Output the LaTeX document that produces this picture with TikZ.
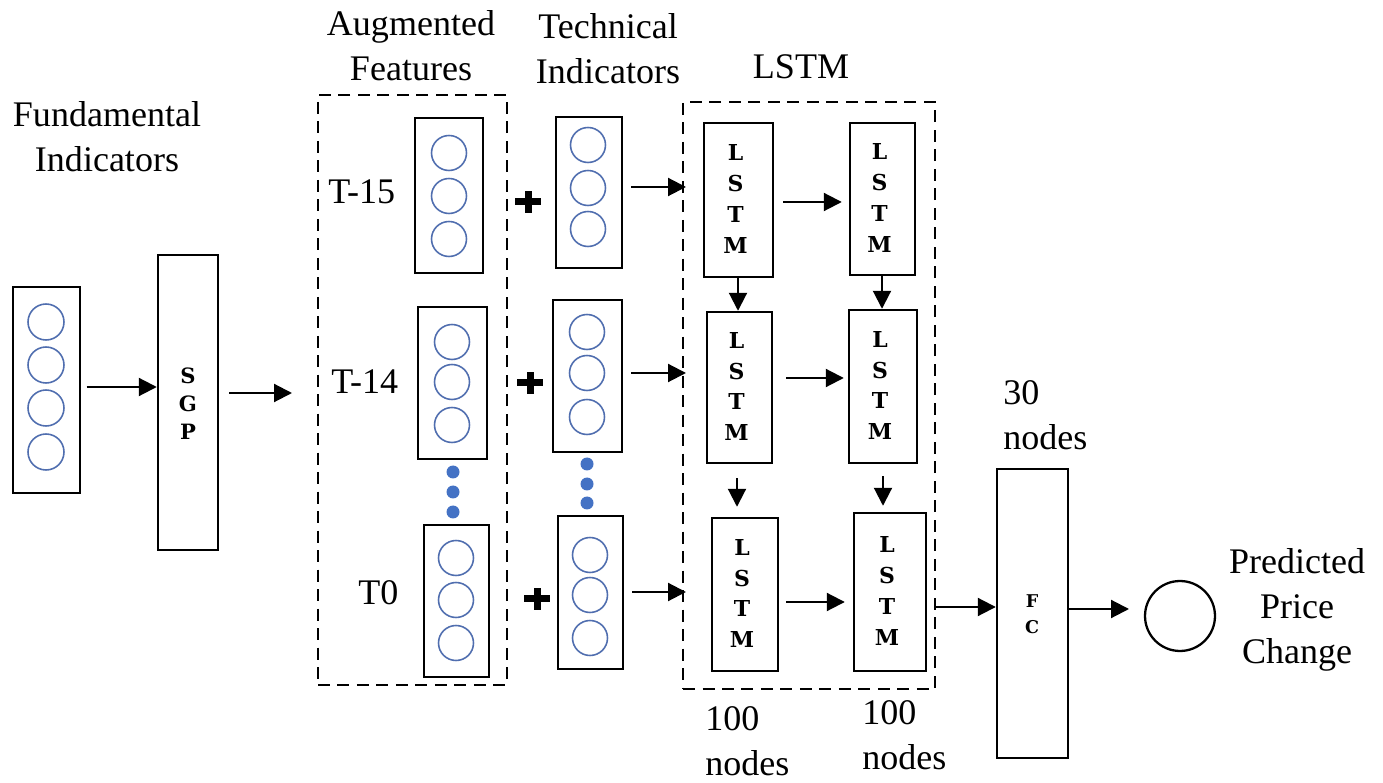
\documentclass[tikz,border=0pt]{standalone}
\usepackage{fontspec}
\setmainfont{Liberation Serif}
\newfontfamily\slabfont{DejaVu Serif}
\usetikzlibrary{arrows.meta,fit}
\definecolor{circblue}{RGB}{80,110,175}
\definecolor{dotblue}{RGB}{68,114,196}
\tikzset{
  box/.style={draw, line width=1.4pt, inner sep=0pt},
  grp/.style={draw, dash pattern=on 0.24cm off 0.15cm, line width=1.5pt, inner sep=0pt},
  cir/.style={draw=circblue, line width=0.9pt},
  dotc/.style={fill=dotblue},
  arr/.style={-{Triangle[length=0.36cm,width=0.36cm]}, line width=1.2pt},
  lbl/.style={font=\fontsize{20.5}{25.5}\selectfont, align=center, inner sep=0pt},
  ltr/.style={font=\slabfont\bfseries\fontsize{12.5}{17.5}\selectfont, align=center, inner sep=0pt},
  plusbar/.style={fill=black},
}
\begin{document}
\begin{tikzpicture}[x=0.02cm,y=-0.02cm]
\useasboundingbox (0,0) rectangle (1383,783);

% titles
\node[lbl] (tfund) at (107,137) {Fundamental\\Indicators};
\node[lbl] (taug) at (411,46) {Augmented\\Features};
\node[lbl] (ttech) at (608,49) {Technical\\Indicators};
\node[lbl] (tlstm) at (801,67) {LSTM};

% fundamental input
\node[box, fit={(13,287) (80,493)}] (fund) {};
\foreach \yy in {322,365,408,452} \draw[cir] (46,\yy) circle[radius=0.36cm];

% SGP
\node[box, fit={(158,255) (218,550)}] (sgp) {};
\node[ltr, font=\slabfont\bfseries\fontsize{12}{16}\selectfont] (sgptxt) at (188,404) {S\\G\\P};
\coordinate (sgpout) at (292,393);
\draw[arr, shorten <=3pt] (fund.east |- 0,387) -- (sgp.west |- 0,387);
\draw[arr, shorten <=0.2cm] (sgp.east |- sgpout) -- (sgpout);

% augmented group
\node[grp, fit={(318,95) (507,685)}] (auggrp) {};
\node[lbl, anchor=west] (t15) at (328,192) {T-15};
\node[lbl, anchor=west] (t14) at (331,382) {T-14};
\node[lbl, anchor=west] (t0) at (358,593) {T0};

\node[box, fit={(415,118) (483,273)}] (a1) {};
\foreach \yy in {153,196,239} \draw[cir] (449,\yy) circle[radius=0.35cm];
\node[box, fit={(418,307) (487,459)}] (a2) {};
\foreach \yy in {342,382,425} \draw[cir] (452,\yy) circle[radius=0.35cm];
\foreach \yy in {472,492,512} \fill[dotc] (453,\yy) circle[radius=0.13cm];
\node[box, fit={(424,525) (489,677)}] (a3) {};
\foreach \yy in {558,600,643} \draw[cir] (456,\yy) circle[radius=0.35cm];

% plus signs
\foreach \px/\py in {528/202,530/383,537/599}{
  \fill[plusbar] (\px-13,\py-3.5) rectangle (\px+13,\py+3.5);
  \fill[plusbar] (\px-3.5,\py-11) rectangle (\px+3.5,\py+11);
}

% technical indicators
\node[box, fit={(556,117) (622,268)}] (b1) {};
\foreach \yy in {145,188,229} \draw[cir] (588,\yy) circle[radius=0.35cm];
\node[box, fit={(553,300) (622,452)}] (b2) {};
\foreach \yy in {332,373,417} \draw[cir] (587,\yy) circle[radius=0.35cm];
\foreach \yy in {464,484,503} \fill[dotc] (587,\yy) circle[radius=0.13cm];
\node[box, fit={(558,516) (623,669)}] (b3) {};
\foreach \yy in {555,595,638} \draw[cir] (590,\yy) circle[radius=0.35cm];

\coordinate (in1) at (686,187);
\coordinate (in2) at (686,373);
\coordinate (in3) at (686,592);
\draw[arr, shorten <=0.16cm] (b1.east |- in1) -- (in1);
\draw[arr, shorten <=0.16cm] (b2.east |- in2) -- (in2);
\draw[arr, shorten <=0.16cm] (b3.east |- in3) -- (in3);

% LSTM group
\node[grp, fit={(683,102) (935,689)}] (lgrp) {};
\node[box, fit={(704,123) (773,277)}] (l11) {};
\node[box, fit={(850,123) (915,275)}] (l12) {};
\node[box, fit={(707,312) (772,463)}] (l21) {};
\node[box, fit={(849,310) (917,463)}] (l22) {};
\node[box, fit={(712,518) (778,671)}] (l31) {};
\node[box, fit={(854,513) (926,671)}] (l32) {};
\foreach \n in {l11,l12,l21,l22,l31,l32}
  \node[ltr] (\n txt) at ([xshift=-0.06cm,yshift=0.02cm]\n.center) {L\\S\\T\\M};

\draw[arr, shorten <=0.18cm, shorten >=0.14cm] (l11.east |- 0,202) -- (l12.west |- 0,202);
\draw[arr, shorten <=0.26cm, shorten >=0.08cm] (l21.east |- 0,378) -- (l22.west |- 0,378);
\draw[arr, shorten <=0.14cm, shorten >=0.16cm] (l31.east |- 0,602) -- (l32.west |- 0,602);
\draw[arr] (l11.south -| 738,0) -- (l21.north -| 738,0);
\draw[arr] (l12.south -| 882,0) -- (l22.north -| 882,0);
\draw[arr, shorten <=0.28cm, shorten >=0.2cm] (l21.south -| 737,0) -- (l31.north -| 737,0);
\draw[arr, shorten <=0.24cm, shorten >=0.12cm] (l22.south -| 883,0) -- (l32.north -| 883,0);

\node[lbl, align=left, anchor=west] (n100a) at (705,741) {100\\nodes};
\node[lbl, align=left, anchor=west] (n100b) at (862,735) {100\\nodes};

% FC
\node[box, fit={(997,469) (1068,758)}] (fc) {};
\node[ltr, font=\slabfont\bfseries\fontsize{10}{15}\selectfont] (fctxt) at (1032,614) {F\\C};
\node[lbl, align=left, anchor=west] (n30) at (1003,415) {30\\nodes};
\draw[arr, shorten <=0.18cm] (l32.east |- 0,607) -- (fc.west |- 0,607);

% output
\node[draw, circle, line width=1.3pt, minimum size=1.4cm, inner sep=0pt] (out) at (1180,616) {};
\draw[arr] (fc.east |- 0,609) -- (1129,609) coordinate (outin);
\node[lbl] (tpred) at (1297,610) {Predicted\\Price\\Change};
\end{tikzpicture}
\end{document}
